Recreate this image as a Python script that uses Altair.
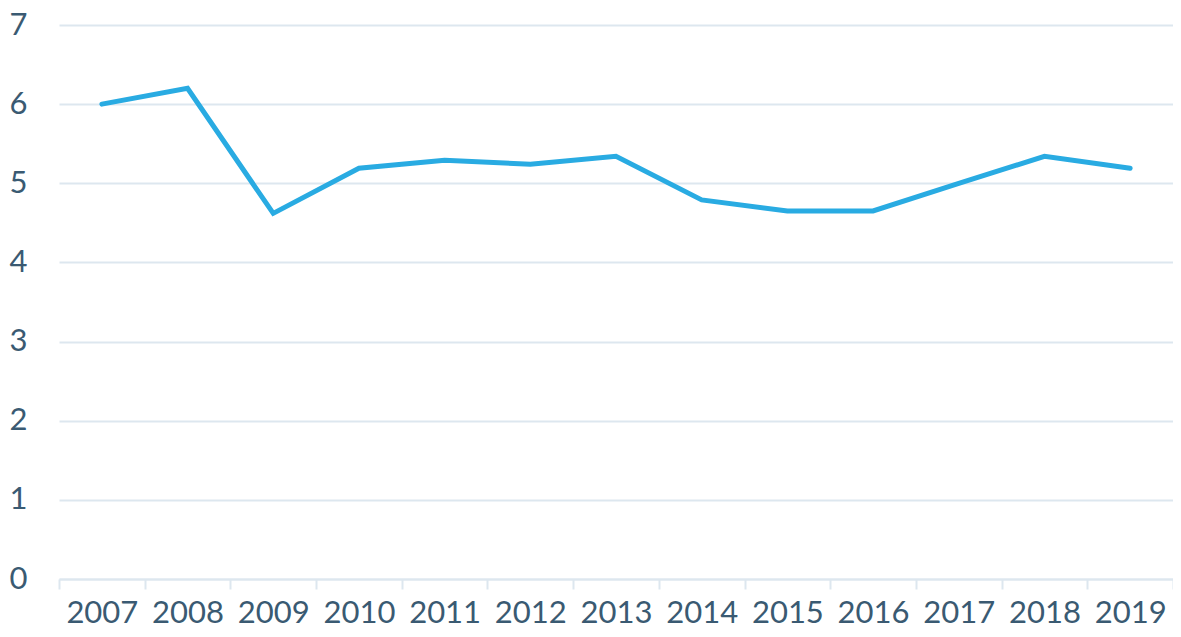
import altair as alt
import pandas as pd

years = ["2007", "2008", "2009", "2010", "2011", "2012", "2013",
         "2014", "2015", "2016", "2017", "2018", "2019"]
values = [6.0, 6.2, 4.62, 5.19, 5.29, 5.24, 5.34, 4.79, 4.65, 4.65, 5.0, 5.34, 5.19]

df = pd.DataFrame({"year": years, "value": values})

text_color = "#3a5a72"
grid_color = "#dde7ef"

chart = alt.Chart(df).mark_line(
    color="#29abe2", strokeWidth=5, strokeCap="round", strokeJoin="miter"
).encode(
    x=alt.X("year:O", sort=years, title=None,
            scale=alt.Scale(paddingInner=0, paddingOuter=0),
            axis=alt.Axis(labelAngle=0, domainColor=grid_color, domainWidth=2,
                          tickColor=grid_color, tickWidth=2, tickSize=10,
                          tickBand="extent", labelPadding=9,
                          labelFont="Lato", labelFontSize=31, labelColor=text_color,
                          grid=False)),
    y=alt.Y("value:Q", title=None,
            scale=alt.Scale(domain=[0, 7]),
            axis=alt.Axis(values=[0, 1, 2, 3, 4, 5, 6, 7], domain=False, ticks=False,
                          gridColor=grid_color, gridWidth=2,
                          labelFont="Lato", labelFontSize=31, labelColor=text_color,
                          labelAlign="left", labelPadding=50, labelBaseline="middle")),
).properties(
    width=1114, height=554,
    autosize=alt.AutoSizeParams(type="none"),
    padding={"left": 51, "top": 17, "right": 0, "bottom": 50},
).configure_view(stroke=None)

chart.save("out.html", embed_options={"renderer": "svg", "actions": False})
